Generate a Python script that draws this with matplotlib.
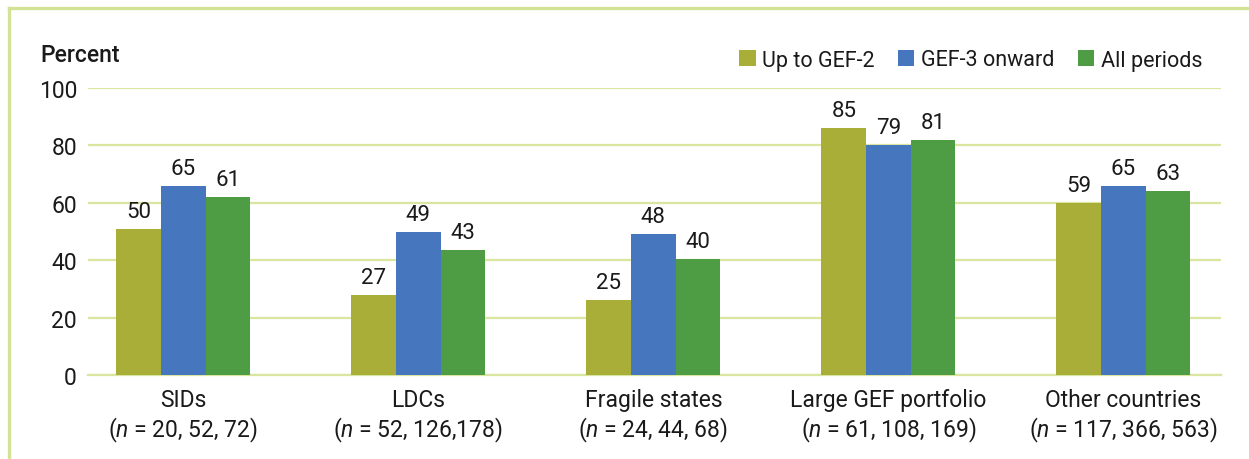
import numpy as np
import matplotlib
matplotlib.use("Agg")
import matplotlib.pyplot as plt
from matplotlib.lines import Line2D
from matplotlib.patches import Patch

plt.rcParams['font.family'] = ['Roboto', 'DejaVu Sans']
plt.rcParams['mathtext.fontset'] = 'custom'
plt.rcParams['mathtext.rm'] = 'Roboto'
plt.rcParams['mathtext.it'] = 'Roboto:italic'

categories = ["SIDs", "LDCs", "Fragile states", "Large GEF portfolio", "Other countries"]
n_counts = ["20, 52, 72", "52, 126,178", "24, 44, 68", "61, 108, 169", "117, 366, 563"]
series = ["Up to GEF-2", "GEF-3 onward", "All periods"]

# bar heights, labels as printed
up_to_gef2 = [51, 28, 26, 86, 60]
gef3_onward = [66, 50, 49, 80, 66]
all_periods = [62, 43.5, 40.5, 82, 64]
up_to_gef2_lbl = [50, 27, 25, 85, 59]
gef3_onward_lbl = [65, 49, 48, 79, 65]
all_periods_lbl = [61, 43, 40, 81, 63]

colors = ["#A9AE38", "#4677BE", "#4E9C44"]
grid_col = "#D8E6A0"
frame_col = "#D3E396"
txt_col = "#1A1A1A"

fig = plt.figure(figsize=(12.49, 4.6), dpi=100)
ax = fig.add_axes([0.0705, 0.1826, 0.9071, 0.6239])

x = np.arange(len(categories))
w = 0.19
heights = [up_to_gef2, gef3_onward, all_periods]
labels = [up_to_gef2_lbl, gef3_onward_lbl, all_periods_lbl]
for i in range(3):
    bars = ax.bar(x + (i - 1) * w, heights[i], width=w, color=colors[i],
                  zorder=3, label=series[i])
    for b, lbl in zip(bars, labels[i]):
        ax.annotate(str(lbl), (b.get_x() + b.get_width() / 2, b.get_height()),
                    xytext=(0, 5), textcoords="offset points",
                    ha="center", va="bottom", fontsize=16, color=txt_col)

ax.set_xlim(-0.405, 4.415)
ax.set_ylim(0, 100)
ax.set_yticks(range(0, 101, 20))
ax.set_axisbelow(True)
ax.yaxis.grid(True, color=grid_col, linewidth=1.6)
ax.set_xticks(x)
ax.set_xticklabels([f"{c}\n(" + r"$n$" + f" = {n})" for c, n in zip(categories, n_counts)],
                   fontsize=16.5, color=txt_col, linespacing=1.2)
ax.tick_params(axis="both", length=0, labelsize=16.5, colors=txt_col)
ax.tick_params(axis="y", pad=8)
ax.tick_params(axis="x", pad=9)
for s in ["top", "right", "left"]:
    ax.spines[s].set_visible(False)
ax.spines["bottom"].set_color(grid_col)
ax.spines["bottom"].set_linewidth(1.6)

fig.text(40 / 1249, 1 - 55 / 460, "Percent", fontsize=16.5, fontweight="medium",
         color=txt_col, va="center", ha="left")

handles = [Patch(facecolor=c, edgecolor="none") for c in colors]
fig.legend(handles, series, loc="center right", bbox_to_anchor=(1202 / 1249, 1 - 61 / 460),
           ncol=3, frameon=False, fontsize=15.5, handlelength=0.75, handleheight=0.8,
           handletextpad=0.3, columnspacing=1.1, borderaxespad=0, borderpad=0,
           labelcolor=txt_col)

# light green frame on left and top
fig.add_artist(Line2D([8.5 / 1249, 8.5 / 1249], [0, 1 - 9 / 460], color=frame_col,
                      linewidth=2.4, transform=fig.transFigure))
fig.add_artist(Line2D([8.5 / 1249, 1], [1 - 9 / 460, 1 - 9 / 460], color=frame_col,
                      linewidth=2.4, transform=fig.transFigure))

fig.savefig("out.png", dpi=100)
